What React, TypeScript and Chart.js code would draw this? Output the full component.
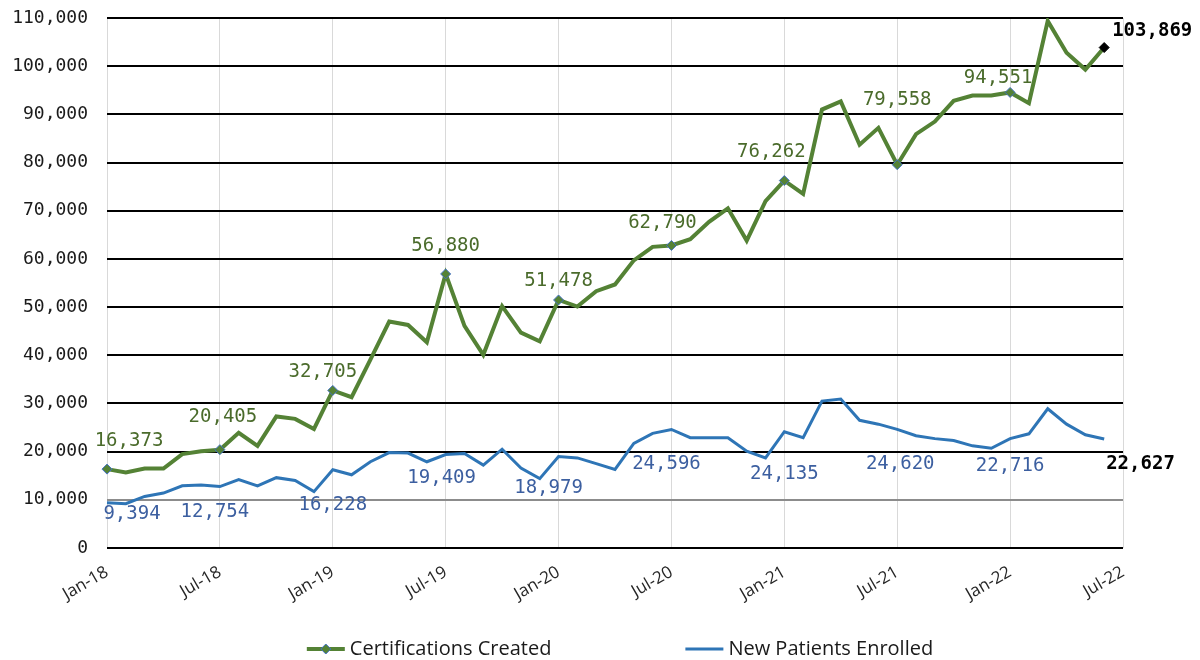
import React, { useEffect, useRef } from 'react';
import { Chart, registerables } from 'chart.js';

Chart.register(...registerables);

// Category axis: every month from Jan-18 to Jul-22
const months = [
  'Jan-18', 'Feb-18', 'Mar-18', 'Apr-18', 'May-18', 'Jun-18', 'Jul-18', 'Aug-18', 'Sep-18', 'Oct-18', 'Nov-18', 'Dec-18',
  'Jan-19', 'Feb-19', 'Mar-19', 'Apr-19', 'May-19', 'Jun-19', 'Jul-19', 'Aug-19', 'Sep-19', 'Oct-19', 'Nov-19', 'Dec-19',
  'Jan-20', 'Feb-20', 'Mar-20', 'Apr-20', 'May-20', 'Jun-20', 'Jul-20', 'Aug-20', 'Sep-20', 'Oct-20', 'Nov-20', 'Dec-20',
  'Jan-21', 'Feb-21', 'Mar-21', 'Apr-21', 'May-21', 'Jun-21', 'Jul-21', 'Aug-21', 'Sep-21', 'Oct-21', 'Nov-21', 'Dec-21',
  'Jan-22', 'Feb-22', 'Mar-22', 'Apr-22', 'May-22', 'Jun-22', 'Jul-22',
];

// Tick labels shown on the x axis
const tickLabels = ['Jan-18', 'Jul-18', 'Jan-19', 'Jul-19', 'Jan-20', 'Jul-20', 'Jan-21', 'Jul-21', 'Jan-22', 'Jul-22'];

const seriesNames = ['Certifications Created', 'New Patients Enrolled'];

const certifications = [
  16373, 15700, 16500, 16500, 19500, 20100, 20405, 23900, 21200, 27300, 26800, 24700,
  32705, 31300, 39100, 47000, 46300, 42700, 56880, 46100, 40100, 50200, 44700, 42900,
  51478, 50100, 53300, 54700, 59700, 62500, 62790, 64100, 67700, 70500, 63800, 72000,
  76262, 73500, 91000, 92700, 83700, 87200, 79558, 85900, 88500, 92800, 93900, 93900,
  94551, 92300, 109400, 102800, 99300, 103869,
];

const newPatients = [
  9394, 9200, 10700, 11400, 12900, 13100, 12754, 14200, 12900, 14600, 14000, 11700,
  16228, 15200, 17900, 19800, 19700, 17900, 19409, 19600, 17200, 20500, 16600, 14400,
  18979, 18700, 17500, 16300, 21700, 23800, 24596, 22900, 22900, 22900, 20100, 18700,
  24135, 22900, 30500, 30900, 26500, 25700, 24620, 23300, 22700, 22300, 21200, 20700,
  22716, 23700, 28900, 25700, 23500, 22627,
];

// Months whose values carry a data label
const labeledIndices = [0, 6, 12, 18, 24, 30, 36, 42, 48, 53];

// Layout only: label offsets (dx, dy) from the point, per labeled month
const certLabelOffsets = [[22, -28], [3, -33], [-10, -18], [0, -28], [0, -19], [-9, -22], [-13, -28], [0, -65], [-12, -14], [8, -16]];
const patientLabelOffsets = [[25, 11], [-5, 26], [0, 35], [-4, 24], [-10, 32], [-5, 35], [0, 42], [3, 35], [0, 28], [2, 25]];

const GREEN = '#548235';
const GREEN_TEXT = '#4a6b2b';
const BLUE = '#2e75b6';
const BLUE_TEXT = '#3c5fa0';
const MONO = '"DejaVu Sans Mono", "Liberation Mono", monospace';
const SANS = '"Open Sans", "Noto Sans", sans-serif';

const fmt = (v: number) => Number(v).toLocaleString('en-US');

const dataLabelPlugin = {
  id: 'dataLabelPlugin',
  afterDatasetsDraw(chart: any) {
    const ctx = chart.ctx;
    const configs = [
      { ds: 0, offsets: certLabelOffsets, color: GREEN_TEXT },
      { ds: 1, offsets: patientLabelOffsets, color: BLUE_TEXT },
    ];
    ctx.save();
    ctx.textBaseline = 'middle';
    configs.forEach((c) => {
      const meta = chart.getDatasetMeta(c.ds);
      const values = chart.data.datasets[c.ds].data as number[];
      const last = values.length - 1;
      labeledIndices.forEach((idx, k) => {
        const el = meta.data[idx];
        if (!el) return;
        const isLast = idx === last;
        const [dx, dy] = c.offsets[k];
        ctx.font = (isLast ? 'bold ' : '') + '19px ' + MONO;
        ctx.fillStyle = isLast ? '#000000' : c.color;
        ctx.textAlign = isLast ? 'left' : 'center';
        ctx.fillText(fmt(values[idx]), el.x + dx, el.y + dy);
      });
    });
    ctx.restore();
  },
};

const legendPlugin = {
  id: 'customLegend',
  afterDraw(chart: any) {
    const ctx = chart.ctx;
    const area = chart.chartArea;
    ctx.save();
    ctx.font = '20px ' + SANS;
    const lineW = 38;
    const gapText = 5;
    const gapItems = 134;
    const colors = [GREEN, BLUE];
    const widths = seriesNames.map((n) => lineW + gapText + ctx.measureText(n).width);
    const total = widths[0] + widths[1] + gapItems;
    let x = (area.left + area.right) / 2 + 5 - total / 2;
    const y = 649;
    seriesNames.forEach((name, i) => {
      ctx.strokeStyle = colors[i];
      ctx.lineWidth = i === 0 ? 4 : 3;
      ctx.beginPath();
      ctx.moveTo(x, y);
      ctx.lineTo(x + lineW, y);
      ctx.stroke();
      if (i === 0) {
        const cx = x + lineW / 2;
        ctx.fillStyle = GREEN;
        ctx.strokeStyle = '#4472c4';
        ctx.lineWidth = 1;
        ctx.beginPath();
        ctx.moveTo(cx - 5, y);
        ctx.lineTo(cx, y - 5);
        ctx.lineTo(cx + 5, y);
        ctx.lineTo(cx, y + 5);
        ctx.closePath();
        ctx.fill();
        ctx.stroke();
      }
      ctx.fillStyle = '#1a1a1a';
      ctx.textAlign = 'left';
      ctx.textBaseline = 'middle';
      ctx.fillText(name, x + lineW + gapText, y);
      x += widths[i] + gapItems;
    });
    ctx.restore();
  },
};

export default function App() {
  const canvasRef = useRef<HTMLCanvasElement | null>(null);

  useEffect(() => {
    document.body.style.margin = '0';
    const canvas = canvasRef.current;
    if (!canvas) return;
    const lastIdx = certifications.length - 1;
    const chart = new Chart(canvas, {
      type: 'line',
      data: {
        labels: months,
        datasets: [
          {
            label: seriesNames[0],
            data: certifications,
            borderColor: GREEN,
            backgroundColor: GREEN,
            borderWidth: 4,
            tension: 0,
            pointStyle: 'rectRot',
            pointRadius: (c: any) => (labeledIndices.includes(c.dataIndex) ? 5 : 0),
            pointHoverRadius: 0,
            pointBackgroundColor: (c: any) => (c.dataIndex === lastIdx ? '#000000' : GREEN),
            pointBorderColor: (c: any) => (c.dataIndex === lastIdx ? '#000000' : '#4472c4'),
            pointBorderWidth: 1,
            fill: false,
          },
          {
            label: seriesNames[1],
            data: newPatients,
            borderColor: BLUE,
            backgroundColor: BLUE,
            borderWidth: 3,
            tension: 0,
            pointRadius: 0,
            pointHoverRadius: 0,
            fill: false,
          },
        ],
      },
      options: {
        responsive: false,
        animation: false,
        devicePixelRatio: 1,
        layout: { padding: { top: 18, right: 77, left: 0, bottom: 0 } },
        plugins: {
          legend: { display: false },
          tooltip: { enabled: false },
        },
        scales: {
          x: {
            type: 'category',
            offset: false,
            border: { display: false },
            grid: {
              color: (c: any) => (c.index % 6 === 0 ? '#d9d9d9' : 'rgba(0,0,0,0)'),
              lineWidth: 1,
              drawTicks: false,
            },
            ticks: {
              autoSkip: false,
              maxRotation: 30,
              minRotation: 30,
              padding: 14,
              color: '#262626',
              font: { family: SANS, size: 17 },
              callback: (_v: any, index: number) => (tickLabels.includes(months[index]) ? months[index] : ''),
            },
            afterFit: (s: any) => {
              s.height = 112;
            },
          },
          y: {
            min: 0,
            max: 110000,
            border: { display: false },
            grid: {
              color: (c: any) => (c.tick && c.tick.value === 10000 ? '#8c8c8c' : '#000000'),
              lineWidth: 2,
              drawTicks: true,
              tickLength: 19,
              tickColor: 'rgba(0,0,0,0)',
            },
            ticks: {
              stepSize: 10000,
              padding: 0,
              color: '#1a1a1a',
              font: { family: MONO, size: 18 },
              callback: (v: any) => fmt(Number(v)),
            },
            afterFit: (s: any) => {
              s.width = 107;
            },
          },
        },
      },
      plugins: [dataLabelPlugin, legendPlugin],
    } as any);
    return () => chart.destroy();
  }, []);

  return (
    <div style={{ width: 1200, height: 660, background: '#ffffff' }}>
      <canvas ref={canvasRef} width={1200} height={660} />
    </div>
  );
}
